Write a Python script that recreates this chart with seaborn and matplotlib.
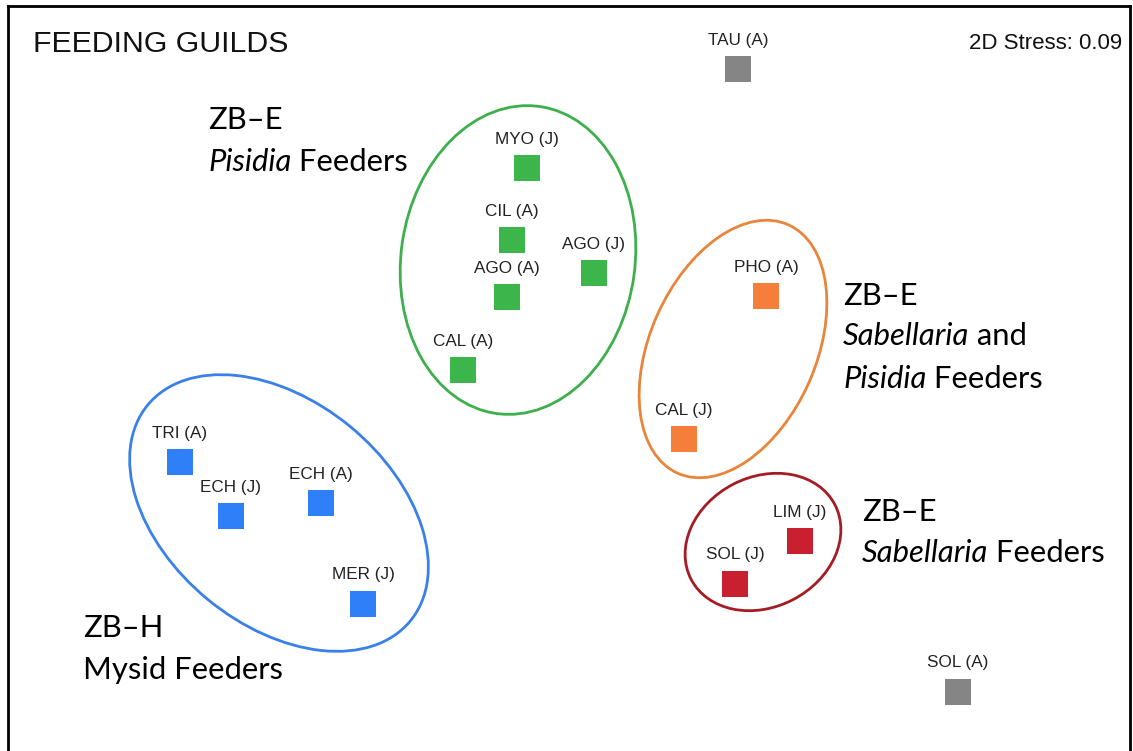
import matplotlib
matplotlib.use("Agg")
import matplotlib.pyplot as plt
from matplotlib.patches import Ellipse
import seaborn as sns
import pandas as pd

sns.set_theme(style="white")
plt.rcParams['font.family'] = ['Liberation Sans', 'DejaVu Sans']

# nMDS coordinates (plot units)
species = ["TAU (A)", "MYO (J)", "CIL (A)", "AGO (J)", "AGO (A)", "CAL (A)",
           "PHO (A)", "CAL (J)", "TRI (A)", "ECH (J)", "ECH (A)", "MER (J)",
           "LIM (J)", "SOL (J)", "SOL (A)"]
mds_x = [738, 527, 512, 594, 507, 463, 766, 684, 180, 231, 321, 363, 800, 735, 958]
mds_y = [69, 168, 240, 273, 297, 370, 296, 439, 462, 516, 503, 604, 541, 584, 692]
guild = ["none", "pis", "pis", "pis", "pis", "pis", "sabpis", "sabpis",
         "mysid", "mysid", "mysid", "mysid", "sab", "sab", "none"]

guild_colors = {"pis": "#3cb54a", "sabpis": "#f57f3a", "mysid": "#2e7ff8",
                "sab": "#c8202f", "none": "#858585"}
ellipse_colors = {"pis": "#3daf4c", "sabpis": "#e8853a", "mysid": "#3a80ea",
                  "sab": "#a51c24"}

# group ellipses: centre x, centre y, width, height, angle
ell_guild = ["pis", "mysid", "sabpis", "sab"]
ell_cx = [518, 279, 733, 763]
ell_cy = [260, 513, 349, 542]
ell_w = [234, 340, 166, 162]
ell_h = [310, 224, 272, 130]
ell_ang = [8, 39.4, 24, -27.4]

df = pd.DataFrame({"x": mds_x, "y": mds_y, "species": species, "guild": guild})

W, H = 1133, 751
fig = plt.figure(figsize=(W / 100, H / 100), dpi=100)
left, right, top = 8, 1130, 6
ax = fig.add_axes([left / W, -0.02, (right - left) / W, (H - top) / H + 0.02])
ax.set_xlim(left, right)
ax.set_ylim(H + 0.02 * H, top)

sns.scatterplot(data=df, x="x", y="y", hue="guild", palette=guild_colors,
                marker="s", s=360, linewidth=0, legend=False, ax=ax, zorder=3)

for sp, x, y in zip(species, mds_x, mds_y):
    ax.text(x, y - 29, sp, ha="center", va="center", fontsize=12.3,
            color="#222222", family=["Liberation Sans Narrow", "Liberation Sans"])

for g, cx, cy, w, h, a in zip(ell_guild, ell_cx, ell_cy, ell_w, ell_h, ell_ang):
    ax.add_patch(Ellipse((cx, cy), w, h, angle=a, fill=False,
                         edgecolor=ellipse_colors[g], linewidth=2, zorder=2))

big = dict(fontsize=22.3, family=["Lato", "DejaVu Sans"], color="black",
           ha="left", va="center")


def mixed(x, y, italic, rest):
    t = ax.text(x, y, italic, style="italic", **big)
    fig.canvas.draw()
    bb = t.get_window_extent()
    inv = ax.transData.inverted()
    x2 = inv.transform((bb.x1, bb.y0))[0]
    ax.text(x2, y, rest, **big)


ax.text(208, 120, "ZB\u2013E", **big)
mixed(208, 162, "Pisidia", " Feeders")
ax.text(843, 296, "ZB\u2013E", **big)
mixed(843, 336, "Sabellaria", " and")
mixed(843, 379, "Pisidia", " Feeders")
ax.text(862, 512, "ZB\u2013E", **big)
mixed(862, 553, "Sabellaria", " Feeders")
ax.text(83, 628, "ZB\u2013H", **big)
ax.text(83, 670, "Mysid Feeders", **big)

ax.text(33, 44, "FEEDING GUILDS", fontsize=21.8, ha="left", va="center", color="#111111")
ax.text(1122, 43, "2D Stress: 0.09", fontsize=16, ha="right", va="center", color="#111111")

ax.set_xlabel("")
ax.set_ylabel("")
ax.set_xticks([])
ax.set_yticks([])
for s in ["left", "right", "top"]:
    ax.spines[s].set_visible(True)
    ax.spines[s].set_color("black")
    ax.spines[s].set_linewidth(2)
ax.spines["bottom"].set_visible(False)

fig.savefig("out.png", dpi=100, facecolor="white")
